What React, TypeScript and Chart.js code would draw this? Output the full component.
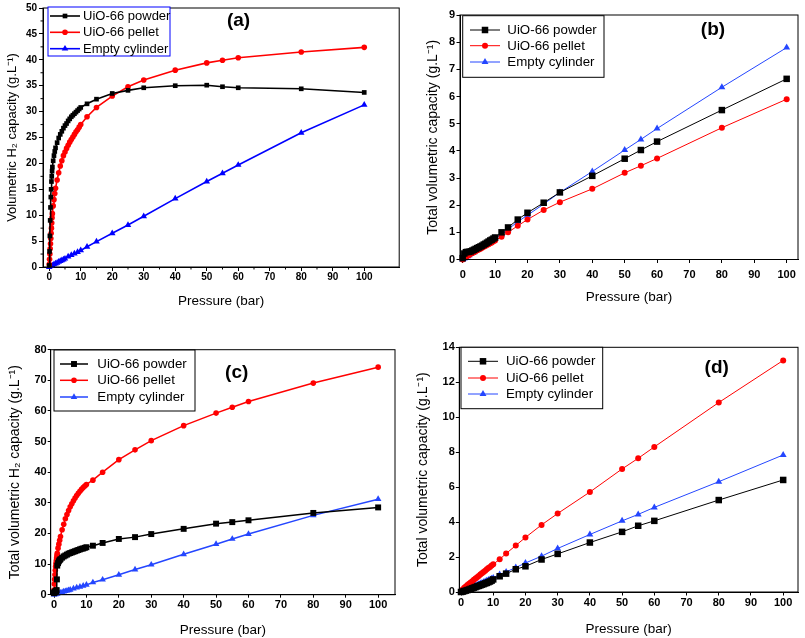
import React, { useEffect, useRef } from 'react';
import { Chart, registerables } from 'chart.js';

Chart.register(...registerables);

// ---------------- DATA ----------------
const SERIES_LABELS = ['UiO-66 powder', 'UiO-66 pellet', 'Empty cylinder'];
const X_TITLE = 'Pressure (bar)';
const PANEL_TITLES = ['(a)', '(b)', '(c)', '(d)'];
const Y_TITLES = [
  'Volumetric H\u2082 capacity (g.L\u207B\u00B9)',
  'Total volumetric capacity (g.L\u207B\u00B9)',
  'Total volumetric H\u2082 capacity (g.L\u207B\u00B9)',
  'Total volumetric capacity (g.L\u207B\u00B9)',
];

const xTickValues = [0, 10, 20, 30, 40, 50, 60, 70, 80, 90, 100];
const xMinorA = [5, 15, 25, 35, 45, 55, 65, 75, 85, 95];
const yTicksA = [0, 5, 10, 15, 20, 25, 30, 35, 40, 45, 50];
const yMinorA = [2.5, 7.5, 12.5, 17.5, 22.5, 27.5, 32.5, 37.5, 42.5, 47.5];
const yTicksB = [0, 1, 2, 3, 4, 5, 6, 7, 8, 9];
const yTicksC = [0, 10, 20, 30, 40, 50, 60, 70, 80];
const yTicksD = [0, 2, 4, 6, 8, 10, 12, 14];

// pressures (bar)
const pressureDense = [0, 0.1, 0.2, 0.3, 0.4, 0.5, 0.6, 0.7, 0.8, 0.9, 1, 1.25, 1.5, 1.75, 2, 2.5, 3, 3.5, 4, 4.5, 5, 5.5, 6, 6.5, 7, 7.5, 8, 8.5, 9, 9.5, 10, 12, 15, 20, 25, 30, 40, 50, 55, 60, 80, 100];
const pressureCylinder = [0, 0.5, 1, 1.5, 2, 2.5, 3, 3.5, 4, 4.5, 5, 6, 7, 8, 9, 10, 12, 15, 20, 25, 30, 40, 50, 55, 60, 80, 100];
const pressureTotal = [0, 0.5, 1, 1.5, 2, 2.5, 3, 3.5, 4, 4.5, 5, 5.5, 6, 6.5, 7, 7.5, 8, 8.5, 9, 9.5, 10, 12, 14, 17, 20, 25, 30, 40, 50, 55, 60, 80, 100];

// (a) volumetric H2 capacity
const aPowder = [0.3, 3, 6, 9, 11.5, 13.5, 15, 16.5, 17.5, 18.5, 19.3, 20.5, 21.5, 22.3, 23, 24, 24.9, 25.6, 26.2, 26.8, 27.3, 27.7, 28.2, 28.6, 29, 29.3, 29.6, 29.9, 30.2, 30.5, 30.8, 31.5, 32.4, 33.5, 34.1, 34.6, 35.0, 35.1, 34.8, 34.6, 34.4, 33.7];
const aPellet = [0.5, 1.5, 2.5, 3.5, 4.5, 5.5, 6.5, 7.5, 8.5, 9.5, 10.3, 11.8, 13, 14.2, 15.2, 16.8, 18.2, 19.5, 20.5, 21.5, 22.2, 22.9, 23.5, 24.1, 24.6, 25.1, 25.6, 26.1, 26.5, 27, 27.5, 29.0, 30.8, 33.0, 34.8, 36.1, 38.0, 39.4, 39.9, 40.4, 41.5, 42.4];
const aCylinder = [0, 0.15, 0.3, 0.5, 0.65, 0.8, 1.0, 1.15, 1.3, 1.45, 1.6, 2.0, 2.3, 2.6, 2.9, 3.2, 3.9, 4.9, 6.5, 8.1, 9.8, 13.2, 16.5, 18.1, 19.7, 25.9, 31.3];

// (b) total volumetric capacity
const bPowder = [0.05, 0.22, 0.27, 0.28, 0.28, 0.3, 0.33, 0.36, 0.39, 0.42, 0.45, 0.48, 0.51, 0.55, 0.58, 0.62, 0.66, 0.7, 0.73, 0.77, 0.81, 1.0, 1.18, 1.47, 1.72, 2.09, 2.47, 3.08, 3.71, 4.03, 4.34, 5.5, 6.65];
const bPellet = [0, 0.06, 0.1, 0.14, 0.17, 0.21, 0.24, 0.27, 0.3, 0.34, 0.37, 0.4, 0.43, 0.47, 0.5, 0.53, 0.56, 0.6, 0.63, 0.67, 0.7, 0.84, 1.0, 1.24, 1.47, 1.82, 2.11, 2.6, 3.19, 3.45, 3.72, 4.85, 5.9];
const bCylinder = [0, 0.04, 0.08, 0.12, 0.16, 0.2, 0.24, 0.27, 0.31, 0.35, 0.39, 0.43, 0.47, 0.51, 0.55, 0.58, 0.62, 0.66, 0.7, 0.74, 0.78, 0.92, 1.11, 1.39, 1.63, 2.04, 2.47, 3.24, 4.03, 4.42, 4.82, 6.34, 7.8];

// (c) total volumetric H2 capacity
const cPowder = [0.5, 0.7, 0.8, 0.9, 1.0, 1.1, 1.2, 1.3, 1.5, 5, 9.5, 10.3, 10.9, 11.3, 11.6, 12.1, 12.5, 12.8, 13.1, 13.4, 13.6, 13.8, 14.0, 14.2, 14.4, 14.6, 14.8, 15.0, 15.1, 15.3, 15.5, 16.0, 16.9, 18.2, 18.8, 19.8, 21.5, 23.2, 23.7, 24.3, 26.7, 28.5];
const cPellet = [1.5, 3.5, 5, 6.5, 8, 9.2, 10.2, 11.1, 12, 12.8, 13.5, 15.2, 16.5, 17.8, 19, 21.2, 23, 24.8, 26.2, 27.5, 28.7, 29.7, 30.7, 31.6, 32.4, 33.1, 33.8, 34.4, 35, 35.5, 36, 37.4, 40, 44.1, 47.3, 50.3, 55.2, 59.3, 61.2, 63.1, 69.1, 74.3];
const cCylinder = [0, 0.15, 0.3, 0.5, 0.65, 0.8, 1.0, 1.15, 1.3, 1.45, 1.6, 2.0, 2.3, 2.6, 2.9, 3.2, 4.0, 4.9, 6.5, 8.2, 9.8, 13.2, 16.5, 18.2, 19.8, 25.9, 31.2];

// (d) total volumetric capacity
const dPowder = [0, 0.02, 0.05, 0.08, 0.11, 0.14, 0.18, 0.21, 0.25, 0.28, 0.32, 0.35, 0.38, 0.42, 0.45, 0.49, 0.52, 0.56, 0.6, 0.65, 0.72, 0.9, 1.05, 1.3, 1.47, 1.86, 2.18, 2.83, 3.44, 3.79, 4.07, 5.26, 6.41];
const dPellet = [0.05, 0.15, 0.25, 0.32, 0.4, 0.47, 0.55, 0.62, 0.7, 0.77, 0.85, 0.92, 1.0, 1.07, 1.15, 1.22, 1.3, 1.37, 1.43, 1.51, 1.59, 1.87, 2.2, 2.66, 3.12, 3.84, 4.49, 5.72, 7.04, 7.65, 8.3, 10.84, 13.25];
const dCylinder = [0, 0.04, 0.08, 0.12, 0.16, 0.2, 0.24, 0.28, 0.32, 0.36, 0.4, 0.44, 0.48, 0.52, 0.56, 0.6, 0.64, 0.68, 0.72, 0.76, 0.8, 1.0, 1.15, 1.4, 1.66, 2.05, 2.49, 3.29, 4.07, 4.44, 4.84, 6.31, 7.84];

// ---------------- STYLE / LAYOUT ----------------
const FONT = "'Liberation Sans', Arial, Helvetica, sans-serif";
const BLACK = '#000000';
const RED = '#ff0000';
const BLUE_A = '#0000ff';
const BLUE = '#2446ff';

type Series = { label: string; x: number[]; y: number[]; color: string; style: string; radius: number };
type Panel = {
  left: number; top: number; w: number; h: number;
  padTop: number; padRight: number; yW: number; xH: number;
  xMin: number; xMax: number; yMin: number; yMax: number;
  yTicks: number[]; xMinor: number[]; yMinor: number[];
  yTitle: string; yTitleFont: number; yTitlePad: number; xTitlePad: number;
  tickFont: number; xTickPad: number; yTickPad: number; tickLen: number;
  lineWidth: number; series: Series[];
  legend: { x: number; y: number; w: number; h: number; rows: number[]; l1: number; l2: number; tx: number; font: number; border: string };
  title: { text: string; x: number; y: number };
};

function mk(x: number[], y: number[], i: number, color: string, style: string, radius: number): Series {
  return { label: SERIES_LABELS[i], x, y, color, style, radius };
}

const panels: Panel[] = [
  {
    left: 0, top: 0, w: 403, h: 318, padTop: 6, padRight: 1, yW: 43, xH: 51,
    xMin: -1.98, xMax: 111.1, yMin: 0, yMax: 50, yTicks: yTicksA, xMinor: xMinorA, yMinor: yMinorA,
    yTitle: Y_TITLES[0], yTitleFont: 13, yTitlePad: 5, xTitlePad: 9,
    tickFont: 10, xTickPad: 0, yTickPad: 2, tickLen: 4, lineWidth: 1.6,
    series: [
      mk(pressureDense, aPowder, 0, BLACK, 'rect', 3.3),
      mk(pressureDense, aPellet, 1, RED, 'circle', 2.8),
      mk(pressureCylinder, aCylinder, 2, BLUE_A, 'triangle', 3.8),
    ],
    legend: { x: 48, y: 7, w: 122, h: 49, rows: [16, 32.3, 48.7], l1: 50, l2: 80, tx: 83, font: 13, border: BLUE_A },
    title: { text: PANEL_TITLES[0], x: 238.5, y: 21 },
  },
  {
    left: 403, top: 0, w: 402, h: 318, padTop: 15, padRight: 7, yW: 57, xH: 58.5,
    xMin: -0.83, xMax: 103.5, yMin: 0, yMax: 9, yTicks: yTicksB, xMinor: [], yMinor: [],
    yTitle: Y_TITLES[1], yTitleFont: 14, yTitlePad: 21.6, xTitlePad: 13,
    tickFont: 11, xTickPad: 5, yTickPad: 1.5, tickLen: 3.5, lineWidth: 1,
    series: [
      mk(pressureTotal, bPowder, 0, BLACK, 'rect', 4.6),
      mk(pressureTotal, bPellet, 1, RED, 'circle', 3),
      mk(pressureTotal, bCylinder, 2, BLUE, 'triangle', 4),
    ],
    legend: { x: 59.7, y: 15.7, w: 141.3, h: 61.6, rows: [30, 45.7, 62], l1: 67, l2: 97, tx: 104.3, font: 13.3, border: BLACK },
    title: { text: PANEL_TITLES[1], x: 310, y: 30 },
  },
  {
    left: 0, top: 318, w: 403, h: 320, padTop: 31.7, padRight: 8, yW: 50.7, xH: 43.3,
    xMin: -1.02, xMax: 105.2, yMin: 0, yMax: 80, yTicks: yTicksC, xMinor: [], yMinor: [],
    yTitle: Y_TITLES[2], yTitleFont: 14, yTitlePad: 6.6, xTitlePad: 0,
    tickFont: 11, xTickPad: 0.7, yTickPad: 1, tickLen: 3, lineWidth: 1.5,
    series: [
      mk(pressureDense, cPowder, 0, BLACK, 'rect', 4.2),
      mk(pressureDense, cPellet, 1, RED, 'circle', 2.8),
      mk(pressureCylinder, cCylinder, 2, BLUE, 'triangle', 3.8),
    ],
    legend: { x: 54, y: 32, w: 141, h: 61, rows: [46, 62.3, 79], l1: 60, l2: 88, tx: 97.3, font: 13.3, border: BLACK },
    title: { text: PANEL_TITLES[2], x: 236.7, y: 55 },
  },
  {
    left: 403, top: 318, w: 402, h: 320, padTop: 29.3, padRight: 7, yW: 56.3, xH: 46,
    xMin: -0.53, xMax: 104.6, yMin: 0, yMax: 14, yTicks: yTicksD, xMinor: [], yMinor: [],
    yTitle: Y_TITLES[3], yTitleFont: 14, yTitlePad: 11.6, xTitlePad: 1,
    tickFont: 11, xTickPad: 0.5, yTickPad: 1, tickLen: 3.5, lineWidth: 1,
    series: [
      mk(pressureTotal, dPowder, 0, BLACK, 'rect', 4.6),
      mk(pressureTotal, dPellet, 1, RED, 'circle', 3),
      mk(pressureTotal, dCylinder, 2, BLUE, 'triangle', 4),
    ],
    legend: { x: 58, y: 29.3, w: 141.7, h: 61.4, rows: [43.3, 60, 76], l1: 65, l2: 95, tx: 103, font: 13.3, border: BLACK },
    title: { text: PANEL_TITLES[3], x: 313.7, y: 49.3 },
  },
];

// ---------------- PLUGINS ----------------
function drawMarker(ctx: CanvasRenderingContext2D, style: string, x: number, y: number, r: number, color: string) {
  ctx.fillStyle = color;
  ctx.beginPath();
  if (style === 'rect') {
    const s = r * Math.SQRT1_2;
    ctx.rect(x - s, y - s, 2 * s, 2 * s);
  } else if (style === 'triangle') {
    let rad = 0;
    ctx.moveTo(x + Math.sin(rad) * r, y - Math.cos(rad) * r);
    rad += (2 * Math.PI) / 3;
    ctx.lineTo(x + Math.sin(rad) * r, y - Math.cos(rad) * r);
    rad += (2 * Math.PI) / 3;
    ctx.lineTo(x + Math.sin(rad) * r, y - Math.cos(rad) * r);
    ctx.closePath();
  } else {
    ctx.arc(x, y, r, 0, Math.PI * 2);
  }
  ctx.fill();
}

const framePlugin = {
  id: 'frameBox',
  afterDraw(chart: any) {
    const { ctx, chartArea } = chart;
    ctx.save();
    ctx.strokeStyle = '#000';
    ctx.lineWidth = 1;
    ctx.strokeRect(chartArea.left, chartArea.top, chartArea.right - chartArea.left, chartArea.bottom - chartArea.top);
    ctx.restore();
  },
};

const minorTickPlugin = {
  id: 'minorTicks',
  afterDraw(chart: any, _a: any, opts: any) {
    const { ctx, chartArea } = chart;
    const xs = chart.scales.x;
    const ys = chart.scales.y;
    ctx.save();
    ctx.strokeStyle = '#000';
    ctx.lineWidth = 1;
    ctx.beginPath();
    (opts.x || []).forEach((v: number) => {
      const px = xs.getPixelForValue(v);
      ctx.moveTo(px, chartArea.bottom);
      ctx.lineTo(px, chartArea.bottom + opts.len);
    });
    (opts.y || []).forEach((v: number) => {
      const py = ys.getPixelForValue(v);
      ctx.moveTo(chartArea.left, py);
      ctx.lineTo(chartArea.left - opts.len, py);
    });
    ctx.stroke();
    ctx.restore();
  },
};

const legendPlugin = {
  id: 'boxLegend',
  afterDraw(chart: any, _a: any, o: any) {
    if (!o || o.w === undefined) return;
    const { ctx } = chart;
    ctx.save();
    ctx.fillStyle = '#ffffff';
    ctx.fillRect(o.x, o.y, o.w, o.h);
    ctx.strokeStyle = o.border;
    ctx.lineWidth = 1;
    ctx.strokeRect(o.x, o.y, o.w, o.h);
    chart.data.datasets.forEach((ds: any, i: number) => {
      const y = o.rows[i];
      ctx.strokeStyle = ds.borderColor;
      ctx.lineWidth = ds.borderWidth;
      ctx.beginPath();
      ctx.moveTo(o.l1, y);
      ctx.lineTo(o.l2, y);
      ctx.stroke();
      drawMarker(ctx, ds.pointStyle, (o.l1 + o.l2) / 2, y, ds.pointRadius, ds.backgroundColor);
      ctx.fillStyle = '#000';
      ctx.font = `${o.font}px ${FONT}`;
      ctx.textAlign = 'left';
      ctx.textBaseline = 'middle';
      ctx.fillText(ds.label, o.tx, y + 0.5);
    });
    ctx.restore();
  },
};

const titlePlugin = {
  id: 'panelTitle',
  afterDraw(chart: any, _a: any, o: any) {
    if (!o || !o.text) return;
    const { ctx } = chart;
    ctx.save();
    ctx.fillStyle = '#000';
    ctx.font = `bold 19px ${FONT}`;
    ctx.textAlign = 'center';
    ctx.textBaseline = 'middle';
    ctx.fillText(o.text, o.x, o.y);
    ctx.restore();
  },
};

function buildConfig(p: Panel): any {
  const xTicks = xTickValues;
  const yTicks = p.yTicks;
  return {
    type: 'scatter',
    data: {
      datasets: p.series.map((s) => ({
        label: s.label,
        data: s.x.map((x, j) => ({ x, y: s.y[j] })),
        showLine: true,
        borderColor: s.color,
        backgroundColor: s.color,
        borderWidth: p.lineWidth,
        pointStyle: s.style,
        pointRadius: s.radius,
        pointBorderWidth: 0,
        pointHoverRadius: s.radius,
        tension: 0,
        clip: false,
      })),
    },
    options: {
      animation: false,
      responsive: false,
      maintainAspectRatio: false,
      events: [],
      layout: { padding: { left: 0, top: p.padTop, right: p.padRight, bottom: 0 } },
      plugins: {
        legend: { display: false },
        tooltip: { enabled: false },
        boxLegend: p.legend,
        panelTitle: p.title,
        minorTicks: { x: p.xMinor, y: p.yMinor, len: 2.5 },
      },
      scales: {
        x: {
          type: 'linear',
          min: p.xMin,
          max: p.xMax,
          afterBuildTicks: (s: any) => { s.ticks = xTicks.map((v) => ({ value: v })); },
          afterFit: (s: any) => { s.height = p.xH; },
          ticks: {
            autoSkip: false, maxRotation: 0, minRotation: 0,
            color: '#000', padding: p.xTickPad,
            font: { family: FONT, size: p.tickFont, weight: 'bold' },
            callback: (v: any) => String(v),
          },
          grid: { drawOnChartArea: false, drawTicks: true, tickLength: p.tickLen, tickColor: '#000', tickWidth: 1 },
          border: { display: true, color: '#000', width: 1 },
          title: {
            display: true, text: X_TITLE, color: '#000',
            font: { family: FONT, size: 13.5, weight: 'normal' },
            padding: { top: 0, bottom: p.xTitlePad },
          },
        },
        y: {
          type: 'linear',
          min: p.yMin,
          max: p.yMax,
          afterBuildTicks: (s: any) => { s.ticks = yTicks.map((v) => ({ value: v })); },
          afterFit: (s: any) => { s.width = p.yW; },
          ticks: {
            autoSkip: false,
            color: '#000', padding: p.yTickPad,
            font: { family: FONT, size: p.tickFont, weight: 'bold' },
            callback: (v: any) => String(v),
          },
          grid: { drawOnChartArea: false, drawTicks: true, tickLength: p.tickLen, tickColor: '#000', tickWidth: 1 },
          border: { display: true, color: '#000', width: 1 },
          title: {
            display: true, text: p.yTitle, color: '#000',
            font: { family: FONT, size: p.yTitleFont, weight: 'normal' },
            padding: { top: p.yTitlePad, bottom: 0 },
          },
        },
      },
    },
    plugins: [framePlugin, minorTickPlugin, legendPlugin, titlePlugin],
  };
}

function PanelChart({ p }: { p: Panel }) {
  const ref = useRef<HTMLCanvasElement>(null);
  useEffect(() => {
    if (!ref.current) return;
    const chart = new Chart(ref.current, buildConfig(p));
    return () => chart.destroy();
  }, [p]);
  return (
    <canvas
      ref={ref}
      width={p.w}
      height={p.h}
      style={{ position: 'absolute', left: p.left, top: p.top, width: p.w, height: p.h }}
    />
  );
}

export default function App() {
  return (
    <div style={{ position: 'absolute', left: 0, top: 0, width: 805, height: 638, background: '#ffffff', overflow: 'hidden' }}>
      {panels.map((p, i) => (
        <PanelChart key={i} p={p} />
      ))}
    </div>
  );
}
